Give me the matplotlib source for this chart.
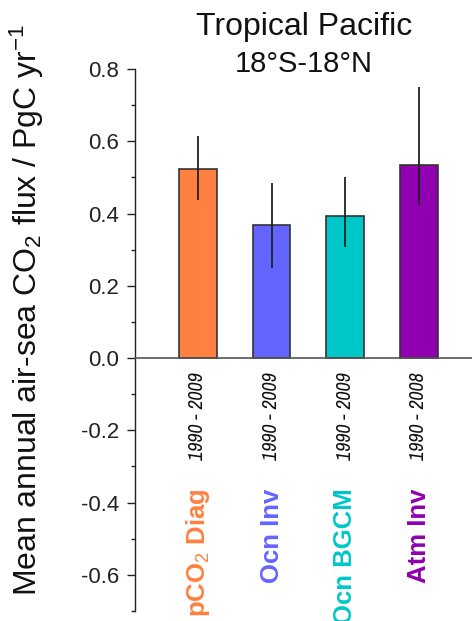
import matplotlib
matplotlib.use("Agg")
import matplotlib.pyplot as plt
from matplotlib.ticker import MultipleLocator
import matplotlib.font_manager as fm

plt.rcParams['font.family'] = ['Liberation Sans', 'DejaVu Sans']
plt.rcParams['mathtext.fontset'] = 'custom'
plt.rcParams['mathtext.rm'] = 'Liberation Sans'
plt.rcParams['mathtext.bf'] = 'Liberation Sans:bold'
plt.rcParams['mathtext.it'] = 'Liberation Sans:italic'

categories = ["pCO$_2$ Diag", "Ocn Inv", "Ocn BGCM", "Atm Inv"]
periods = ["1990 - 2009", "1990 - 2009", "1990 - 2009", "1990 - 2008"]
values = [0.524, 0.369, 0.392, 0.535]
err_low = [0.087, 0.120, 0.085, 0.110]
err_high = [0.091, 0.116, 0.109, 0.214]
colors = ["#FF8040", "#6464FF", "#00C8C8", "#9000B0"]

# look for a condensed italic face for the period labels
narrow_file = None
for f in fm.fontManager.ttflist:
    if 'Narrow' in f.name and f.style in ('italic', 'oblique') and f.weight in (400, 'normal', 'regular'):
        narrow_file = f.fname
        break
if narrow_file:
    year_font = fm.FontProperties(fname=narrow_file, size=14.5)
else:
    year_font = fm.FontProperties(family='Liberation Sans', style='italic', size=12.5)

fig = plt.figure(figsize=(4.72, 6.21), dpi=100)
ax = fig.add_axes([134.5/472, 10/621, 1 - 134.5/472, (611-69)/621])

x = list(range(len(values)))
ax.bar(x, values, width=0.51, color=colors, edgecolor='#333333', linewidth=1.2, zorder=2)
ax.errorbar(x, values, yerr=[err_low, err_high], fmt='none', ecolor='#222222',
            elinewidth=1.3, capsize=0, zorder=3)
ax.axhline(0, color='#555555', linewidth=1.2, zorder=4)

ax.set_xlim(-0.86, 3.72)
ax.set_ylim(-0.7, 0.8)
ax.yaxis.set_minor_locator(MultipleLocator(0.1))
ax.set_yticks([0.8, 0.6, 0.4, 0.2, 0.0, -0.2, -0.4, -0.6])
ax.set_yticklabels(["0.8", "0.6", "0.4", "0.2", "0.0", "-0.2", "-0.4", "-0.6"])
ax.tick_params(axis='y', which='major', length=6, width=1, labelsize=16, pad=5, colors='#222222')
ax.tick_params(axis='y', which='minor', length=3, width=1, colors='#222222')
ax.set_xticks([])
for s in ['top', 'right', 'bottom']:
    ax.spines[s].set_visible(False)
ax.spines['left'].set_color('#222222')
ax.spines['left'].set_linewidth(1.0)

for xi, p, c, col in zip(x, periods, categories, colors):
    ax.text(xi, -0.04, p, rotation=90, ha='center', va='top',
            fontproperties=year_font, color='#111111')
    ax.text(xi, -0.36, c, rotation=90, ha='center', va='top', fontsize=18.5,
            fontweight='bold', color=col, clip_on=False)

fig.text(304/472, 1 - 35/621, "Tropical Pacific", ha='center', va='baseline', fontsize=23, color='#111111')
fig.text(304/472, 1 - 72/621, "18\u00b0S-18\u00b0N", ha='center', va='baseline', fontsize=21, color='#111111')
fig.text(27/472, 1 - 310/621, "Mean annual air-sea CO$_2$ flux / PgC yr$^{-1}$", rotation=90,
         ha='center', va='center', fontsize=23, color='#111111')

fig.savefig("out.png", dpi=100)
